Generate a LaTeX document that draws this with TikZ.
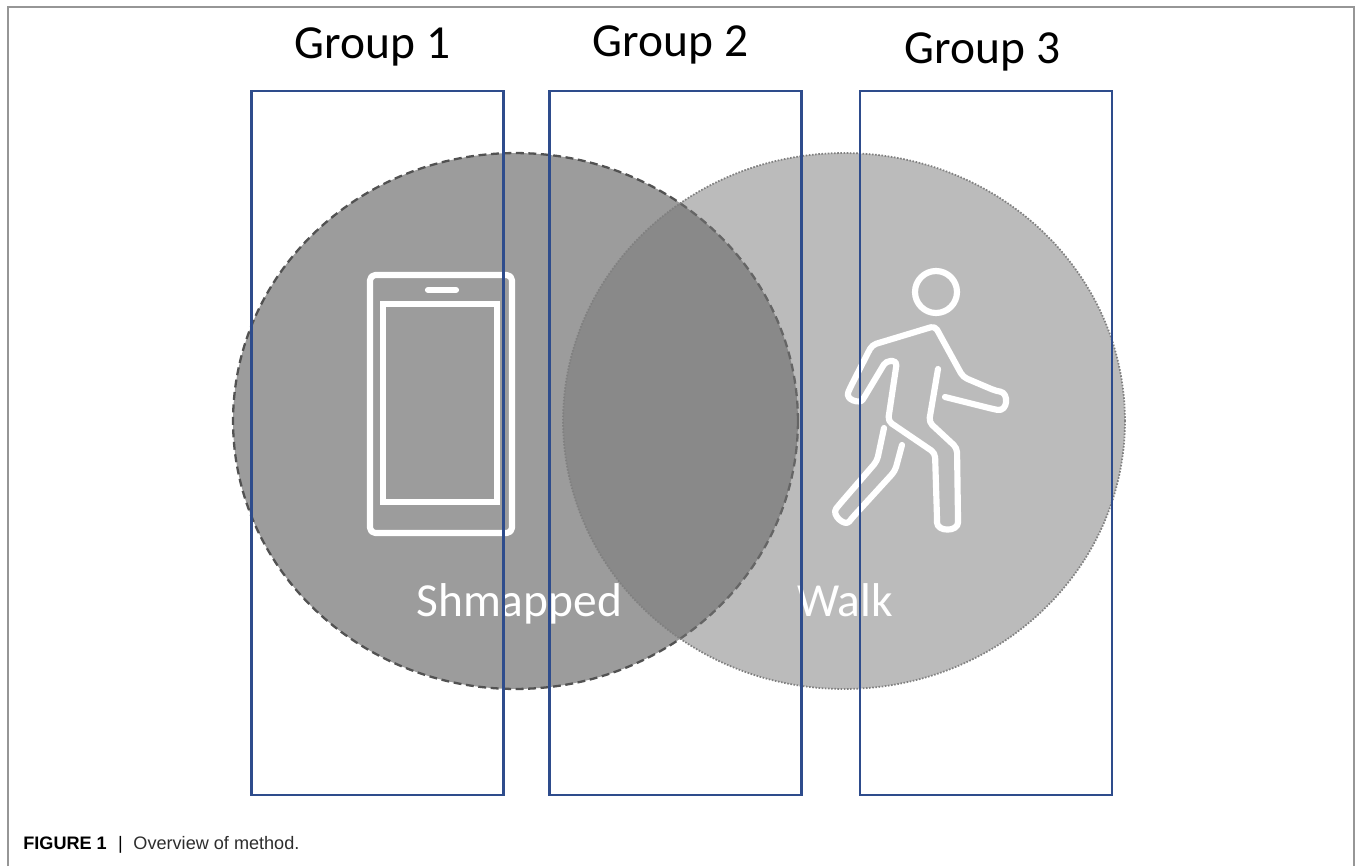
\documentclass[tikz,border=0pt]{standalone}
\usepackage{fontspec}
\setmainfont{Carlito}
\newfontfamily\captionfont{Liberation Sans}
\usepackage{xcolor}
\usepackage{tikz}
\usetikzlibrary{calc,positioning}

\definecolor{groupblue}{RGB}{46,76,140}
\definecolor{shmapfill}{RGB}{156,156,156}
\definecolor{walkfill}{RGB}{120,120,120}
\definecolor{framegray}{RGB}{150,150,150}
\definecolor{captiongray}{RGB}{45,45,45}

\tikzset{
  groupbox/.style={draw=groupblue, line width=1.6pt, minimum width=5.04cm, minimum height=14.08cm, inner sep=0pt, outer sep=0pt},
  grouplabel/.style={font=\fontsize{27}{32}\selectfont, anchor=base, inner sep=0pt},
  circlelabel/.style={font=\fontsize{27}{32}\selectfont, text=white, anchor=base west, inner sep=0pt},
  iconline/.style={draw=white, line width=3.5pt, line cap=round, line join=round}
}

\begin{document}
\begin{tikzpicture}[x=0.02cm, y=-0.02cm]

\useasboundingbox (0,0) rectangle (1356,866);

% Shmapped circle
\fill[shmapfill] (515.5,421) ellipse [x radius=5.65cm, y radius=5.36cm];
\draw[black!68, line width=1.3pt, dash pattern=on 4.5pt off 2.6pt] (515.5,421) ellipse [x radius=5.65cm, y radius=5.36cm];

% Walk circle
\fill[walkfill, fill opacity=0.5] (844,421) ellipse [x radius=5.62cm, y radius=5.36cm];
\draw[black!50, line width=1pt, dash pattern=on 0.9pt off 0.9pt] (844,421) ellipse [x radius=5.62cm, y radius=5.36cm];

% Phone icon
\draw[iconline, rounded corners=3pt] (370,275) rectangle (512,533);
\draw[iconline, line join=miter] (383,304) rectangle (497,502);
\draw[iconline] (428,290) -- (456,290);

% Walking person icon
\draw[iconline] (936,292) circle [radius=0.42cm];
\draw[iconline, rounded corners=2.5pt] (945,397) -- (993,409) .. controls (1008,412) and (1009,393) .. (996,391) -- (963,377) -- (935,326) -- (872,345) -- (850,388) .. controls (845,400) and (860,404) .. (865,396) -- (886,361) -- (897,361) -- (888,421) -- (935,453) -- (937,518) .. controls (937,532) and (958,532) .. (958,518) -- (957,448) -- (929,422) -- (938,369);
\draw[iconline, rounded corners=2.5pt] (884,428) -- (877,461) -- (839,505) .. controls (831,515) and (845,527) .. (852,518) -- (895,471) -- (902,445);

% Circle labels
\node[circlelabel] (shmapped) at (416,616) {Shmapped};
\node[circlelabel] (walk) at (797,616) {Walk};

% Frame
\draw[framegray, line width=0.8pt] (8,866) -- (8,7) -- (1354,7) -- (1354,866);

% Group boxes
\node[groupbox] (group1) at (377.5,443) {};
\node[groupbox] (group2) at (675.5,443) {};
\node[groupbox] (group3) at (986,443) {};

% Group labels
\node[grouplabel] (group1label) at (372.5,58) {Group 1};
\node[grouplabel] (group2label) at (670.5,56) {Group 2};
\node[grouplabel] (group3label) at (982.5,63) {Group 3};

% Caption
\node[anchor=base west, inner sep=0pt, font=\captionfont\fontsize{10.3}{12}\selectfont, text=captiongray] (caption) at (23,849) {\textcolor{black}{\bfseries FIGURE 1}\hspace{6.5pt}\textcolor{black}{|}\hspace{6pt}Overview of method.};

\end{tikzpicture}
\end{document}
